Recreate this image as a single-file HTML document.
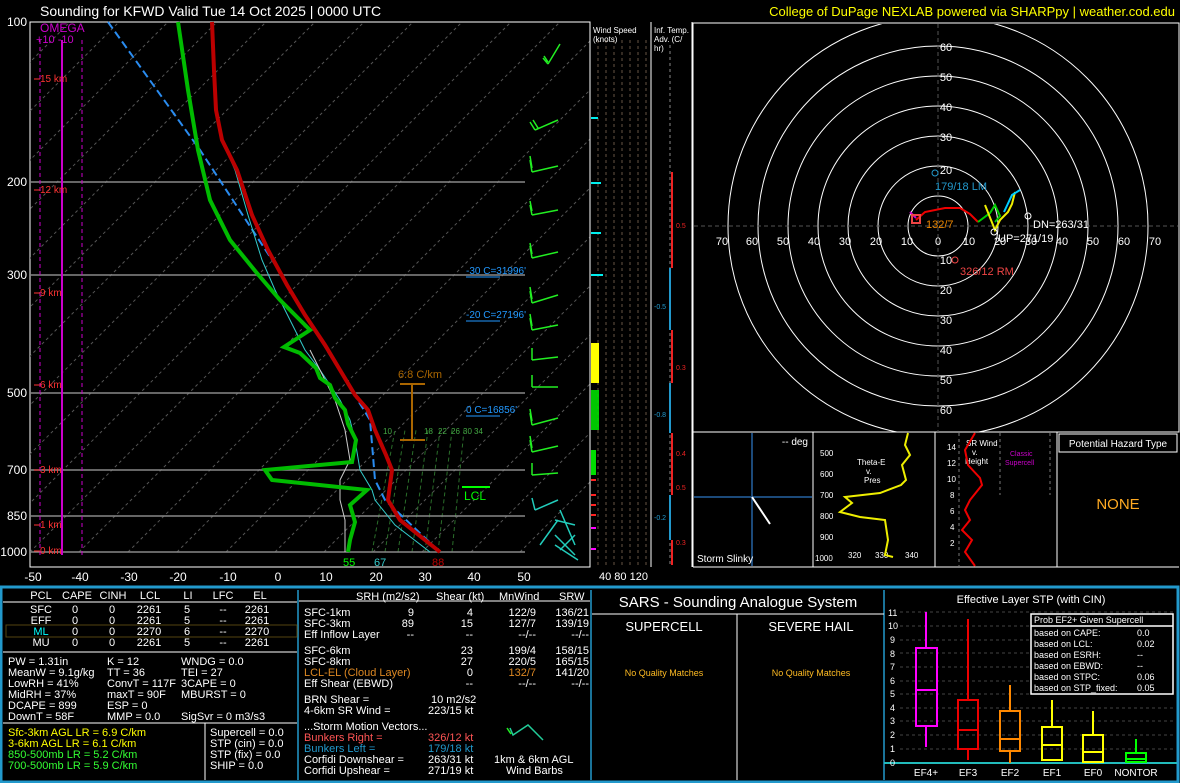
<!DOCTYPE html>
<html><head><meta charset="utf-8"><style>
body{margin:0;background:#000;width:1180px;height:783px;overflow:hidden}
svg{display:block;font-family:"Liberation Sans",sans-serif}
</style></head><body>
<svg width="1180" height="783" viewBox="0 0 1180 783" xmlns="http://www.w3.org/2000/svg">
<rect width="1180" height="783" fill="#000"/>
<text x="40" y="16" fill="#fff" font-size="14">Sounding for KFWD Valid  Tue 14 Oct 2025 | 0000 UTC</text>
<text x="1175" y="16" fill="#ff0" font-size="13" text-anchor="end">College of DuPage NEXLAB powered via SHARPpy | weather.cod.edu</text>
<defs><clipPath id="sk"><rect x="30" y="22" width="560" height="545"/></clipPath>
<clipPath id="hd"><rect x="694" y="24" width="484" height="408"/></clipPath></defs>
<rect x="30" y="22" width="560" height="545" fill="none" stroke="#fff" stroke-width="1"/>
<g clip-path="url(#sk)" stroke="#555" stroke-dasharray="3,3" stroke-width="1">
<path d="M-460 552L70 22M-411 552L119 22M-362 552L168 22M-313 552L217 22M-264 552L266 22M-215 552L315 22M-166 552L364 22M-117 552L413 22M-68 552L462 22M-19 552L511 22M30 552L560 22M79 552L609 22M128 552L658 22M177 552L707 22M226 552L756 22M275 552L805 22M324 552L854 22M373 552L903 22M422 552L952 22M471 552L1001 22M520 552L1050 22"/>
</g>
<g clip-path="url(#sk)" stroke="#2a6e2a" stroke-width="1" stroke-dasharray="4,3">
<path d="M372 552L395 430M385 552L405 430M398 552L416 430M412 552L428 430M425 552L440 430M438 552L452 430M452 552L464 430"/>
</g>
<g fill="#4a4" font-size="8"><text x="383" y="434">10</text><text x="424" y="434">18</text><text x="438" y="434">22</text><text x="451" y="434">26</text><text x="463" y="434">30</text><text x="474" y="434">34</text></g>
<g stroke="#888" stroke-width="1.5"><path d="M30 182H525M30 275H525M30 393H525M30 470H525M30 516H525M30 552H525"/></g>
<g fill="#fff" font-size="12" text-anchor="end"><text x="27" y="26">100</text><text x="27" y="186">200</text><text x="27" y="279">300</text><text x="27" y="397">500</text><text x="27" y="474">700</text><text x="27" y="520">850</text><text x="27" y="556">1000</text></g>
<g fill="#fff" font-size="12" text-anchor="middle"><text x="33" y="581">-50</text><text x="80" y="581">-40</text><text x="129" y="581">-30</text><text x="178" y="581">-20</text><text x="228" y="581">-10</text><text x="278" y="581">0</text><text x="326" y="581">10</text><text x="376" y="581">20</text><text x="425" y="581">30</text><text x="474" y="581">40</text><text x="524" y="581">50</text></g>
<g stroke="#c0c" stroke-width="1" stroke-dasharray="4,3"><path d="M40 40V555M82 40V555"/></g>
<path d="M62 40V555" stroke="#c0c" stroke-width="2"/>
<text x="40" y="32" fill="#c0c" font-size="12">OMEGA</text>
<text x="36" y="43" fill="#c0c" font-size="11">+10   -10</text>
<g fill="#f33" font-size="10"><text x="40" y="82">15 km</text><text x="40" y="193">12 km</text><text x="40" y="296">9 km</text><text x="40" y="388">6 km</text><text x="40" y="473">3 km</text><text x="40" y="528">1 km</text><text x="40" y="554">0 km</text></g>
<g stroke="#f33"><path d="M34 79H40M34 190H40M34 293H40M34 385H40M34 470H40M34 525H40M34 551H40"/></g>
<path d="M108 22L200 150L280 272L330 355L370 420L375 480L385 500L440 552" fill="none" stroke="#2a8cf0" stroke-width="2" stroke-dasharray="8,4"/>
<path d="M430 552L395 525L375 500L372 490L360 470L355 440L350 420L340 400L320 370L305 350L290 320L275 290L262 260L248 215L235 170L222 140" fill="none" stroke="#3cc" stroke-width="1"/>
<path d="M345 552L345 520L340 500L340 480L350 460L345 430L335 400L325 380L310 350" fill="none" stroke="#ccc" stroke-width="1"/>
<path d="M440 552L400 520L388 500L392 470L386 455L375 430L368 410L355 395L340 370L325 345L305 315L287 285L268 250L252 215L237 170L222 140L216 110L214 70L212 22" fill="none" stroke="#b00" stroke-width="4"/>
<path d="M348 552L350 540L355 522L350 505L367 490L272 480L265 470L352 462L356 440L348 424L345 410L335 398L330 385L320 378L316 368L300 353L284 347L310 330L280 300L256 272L230 240L210 200L198 150L188 90L178 22" fill="none" stroke="#0b0" stroke-width="4"/>
<text x="466" y="274" fill="#29f" font-size="10">-30 C=31996'</text>
<text x="466" y="318" fill="#29f" font-size="10">-20 C=27196'</text>
<text x="466" y="413" fill="#29f" font-size="10">0 C=16856'</text>
<g stroke="#29f"><path d="M466 277H500M466 321H500M466 416H500"/></g>
<path d="M412 384V440M400 384H425M400 440H425" stroke="#a60" stroke-width="2"/>
<text x="398" y="378" fill="#a60" font-size="11">6.8 C/km</text>
<text x="464" y="500" fill="#0f0" font-size="12">LCL</text>
<path d="M462 487H490" stroke="#0f0" stroke-width="2"/>
<g font-size="11"><text x="343" y="566" fill="#0f0">55</text><text x="374" y="566" fill="#3cc">67</text><text x="432" y="566" fill="#b00">88</text></g>
<g stroke="#2e2" stroke-width="1.5" fill="none">
<path d="M548 64L560 44M548 64L543 58M548 62L544 56"/>
<path d="M535 130L558 120M535 130L530 122M538 128L533 120"/>
<path d="M532 172L558 166M532 172L530 160M532 168L530 156"/>
<path d="M532 215L558 210M532 215L530 205M532 211L530 201"/>
<path d="M532 258L558 252M532 258L530 246M532 254L530 243"/>
<path d="M532 303L558 295M532 303L530 291M532 299L530 287"/>
<path d="M532 330L558 325M532 330L530 318M532 326L530 314"/>
<path d="M532 360L558 357M532 360L532 348"/>
<path d="M532 387L558 387M532 387L532 375"/>
<path d="M532 425L558 418M532 425L530 413M532 421L530 409"/>
<path d="M532 452L558 446M532 452L530 440M532 448L530 436"/>
<path d="M532 475L558 473M532 475L532 463"/>
</g>
<g stroke="#2cb" stroke-width="1.5" fill="none">
<path d="M535 510L558 500M535 510L532 498"/>
<path d="M540 545L558 520M560 510L575 545M555 520L575 525"/>
<path d="M555 535L575 555M555 545L578 560M560 550L575 535"/>
</g>
<path d="M590 22V567M651 22V567M692 22V567" stroke="#fff"/>
<g stroke="#654" stroke-dasharray="3,3"><path d="M598 40V565M606 40V565M614 40V565M622 40V565M630 40V565M638 40V565M646 40V565"/></g>
<text x="593" y="33" fill="#fff" font-size="8">Wind Speed</text><text x="593" y="42" fill="#fff" font-size="8">(knots)</text>
<text x="654" y="33" fill="#fff" font-size="8">Inf. Temp.</text><text x="654" y="42" fill="#fff" font-size="8">Adv. (C/</text><text x="654" y="51" fill="#fff" font-size="8">hr)</text>
<g stroke="#0ee" stroke-width="2"><path d="M591 118H598M591 183H601M591 233H601M591 275H603"/></g>
<rect x="591" y="343" width="8" height="40" fill="#ff0"/>
<rect x="591" y="390" width="8" height="40" fill="#0d0" opacity="0.9"/>
<rect x="591" y="450" width="5" height="25" fill="#0d0"/>
<g stroke="#f22" stroke-width="2"><path d="M591 480H596M591 495H596M591 505H596M591 515H596"/></g>
<path d="M591 528H596M591 549H596" stroke="#f0f" stroke-width="2"/>
<path d="M670 45V565" stroke="#888" stroke-dasharray="3,3"/>
<path d="M672 172V268M672 330V383M672 433V495M672 540V565" stroke="#e22" stroke-width="2"/>
<path d="M670 268V330M670 383V433M670 495V540" stroke="#29c" stroke-width="2"/>
<g font-size="7"><text x="676" y="228" fill="#e22">0.5</text><text x="676" y="370" fill="#e22">0.3</text><text x="676" y="456" fill="#e22">0.4</text><text x="676" y="490" fill="#e22">0.5</text><text x="676" y="545" fill="#e22">0.3</text><text x="654" y="309" fill="#29c">-0.5</text><text x="654" y="417" fill="#29c">-0.8</text><text x="654" y="520" fill="#29c">-0.2</text></g>
<text x="599" y="580" fill="#fff" font-size="11">40  80 120</text>
<rect x="693" y="23" width="486" height="409" fill="none" stroke="#fff"/>
<g clip-path="url(#hd)" fill="none" stroke="#fff" stroke-width="1">
<circle cx="938" cy="226" r="30"/><circle cx="938" cy="226" r="60"/><circle cx="938" cy="226" r="90"/><circle cx="938" cy="226" r="120"/><circle cx="938" cy="226" r="150"/><circle cx="938" cy="226" r="180"/><circle cx="938" cy="226" r="210"/>
</g>
<path d="M694 226H1178M938 24V432" stroke="#555" stroke-dasharray="4,3"/>
<g fill="#fff" font-size="11" text-anchor="middle"><text x="722" y="245">70</text><text x="752" y="245">60</text><text x="783" y="245">50</text><text x="814" y="245">40</text><text x="845" y="245">30</text><text x="876" y="245">20</text><text x="907" y="245">10</text><text x="938" y="245">0</text><text x="969" y="245">10</text><text x="1000" y="245">20</text><text x="1031" y="245">30</text><text x="1062" y="245">40</text><text x="1093" y="245">50</text><text x="1124" y="245">60</text><text x="1155" y="245">70</text>
<text x="946" y="51">60</text><text x="946" y="81">50</text><text x="946" y="111">40</text><text x="946" y="141">30</text><text x="946" y="174">20</text><text x="946" y="264">10</text><text x="946" y="294">20</text><text x="946" y="324">30</text><text x="946" y="354">40</text><text x="946" y="384">50</text><text x="946" y="414">60</text></g>
<path d="M916 220L925 212L945 208L960 208L970 214L978 222" fill="none" stroke="#e00" stroke-width="2"/>
<path d="M978 222L990 213L995 205L1000 216L995 222" fill="none" stroke="#0c0" stroke-width="2"/>
<path d="M985 205L995 230L1000 220L1008 212L1012 204L1015 192" fill="none" stroke="#ee0" stroke-width="2"/>
<path d="M1004 212L1012 195L1020 190" fill="none" stroke="#0cf" stroke-width="2"/>
<path d="M910 212L916 218" stroke="#c0c" stroke-width="2"/>
<rect x="912" y="215" width="8" height="8" fill="none" stroke="#e44" stroke-width="2"/>
<text x="926" y="228" fill="#e80" font-size="11">132/7</text>
<circle cx="935" cy="173" r="3" fill="none" stroke="#29c"/><text x="935" y="190" fill="#29c" font-size="11">179/18 LM</text>
<circle cx="955" cy="260" r="3" fill="none" stroke="#e44"/><text x="960" y="275" fill="#e44" font-size="11">326/12 RM</text>
<circle cx="1028" cy="216" r="3" fill="none" stroke="#fff"/><text x="1033" y="228" fill="#fff" font-size="11">DN=263/31</text>
<circle cx="994" cy="232" r="3" fill="none" stroke="#fff"/><text x="998" y="242" fill="#fff" font-size="11">UP=271/19</text>
<path d="M693 432V567M813 432V567M935 432V567M1057 432V567M693 567H1179" stroke="#fff"/>
<path d="M694 497H812M752 433V566" stroke="#1c4a7a" stroke-width="2"/>
<path d="M752 497L770 524" stroke="#fff" stroke-width="2"/>
<text x="808" y="445" fill="#fff" font-size="10" text-anchor="end">-- deg</text>
<text x="697" y="562" fill="#fff" font-size="10">Storm Slinky</text>
<g fill="#fff" font-size="8"><text x="820" y="456">500</text><text x="820" y="477">600</text><text x="820" y="498">700</text><text x="820" y="519">800</text><text x="820" y="540">900</text><text x="815" y="561">1000</text><text x="848" y="558">320</text><text x="875" y="558">330</text><text x="905" y="558">340</text><text x="857" y="465">Theta-E</text><text x="866" y="474">v.</text><text x="864" y="483">Pres</text></g>
<path d="M908 433L905 445L910 455L902 465L906 480L901 485L880 493L845 497L852 503L840 512L860 517L885 520L888 540L885 555L893 557" fill="none" stroke="#ee0" stroke-width="2"/>
<g fill="#fff" font-size="8"><text x="947" y="450">14</text><text x="947" y="466">12</text><text x="947" y="482">10</text><text x="950" y="498">8</text><text x="950" y="514">6</text><text x="950" y="530">4</text><text x="950" y="546">2</text><text x="966" y="446">SR Wind</text><text x="972" y="455">v.</text><text x="965" y="464">Height</text></g>
<text x="1010" y="456" fill="#c0c" font-size="7">Classic</text><text x="1005" y="465" fill="#c0c" font-size="7">Supercell</text>
<path d="M959 433V566M1000 433V495M1050 433V495" stroke="#777" stroke-dasharray="3,3"/>
<path d="M975 433L965 450L968 465L980 478L982 485L970 500L965 510L970 520L962 530L972 540L965 552L975 566" fill="none" stroke="#e00" stroke-width="2"/>
<rect x="1059" y="434" width="118" height="18" fill="none" stroke="#fff"/>
<text x="1118" y="447" fill="#fff" font-size="10" text-anchor="middle">Potential Hazard Type</text>
<text x="1118" y="509" fill="#fa2" font-size="15" text-anchor="middle">NONE</text>
<!-- bottom panels -->
<rect x="1" y="587" width="1177" height="195" fill="none" stroke="#29c" stroke-width="3"/>
<path d="M298 590V780M591 590V780M884 590V780" stroke="#29c" stroke-width="1.5"/>
<path d="M3 602H297M3 652H297M3 723H297M205 723V780M299 601H590" stroke="#fff"/>
<rect x="6" y="625" width="291" height="12" fill="none" stroke="#541"/>
<g fill="#fff" font-size="11" text-anchor="middle">
<text x="41" y="599">PCL</text><text x="77" y="599">CAPE</text><text x="113" y="599">CINH</text><text x="150" y="599">LCL</text><text x="188" y="599">LI</text><text x="223" y="599">LFC</text><text x="260" y="599">EL</text>
<text x="41" y="613">SFC</text><text x="75" y="613">0</text><text x="112" y="613">0</text><text x="149" y="613">2261</text><text x="187" y="613">5</text><text x="223" y="613">--</text><text x="257" y="613">2261</text>
<text x="41" y="624">EFF</text><text x="75" y="624">0</text><text x="112" y="624">0</text><text x="149" y="624">2261</text><text x="187" y="624">5</text><text x="223" y="624">--</text><text x="257" y="624">2261</text>
<text x="41" y="635" fill="#0ff">ML</text><text x="75" y="635">0</text><text x="112" y="635">0</text><text x="149" y="635">2270</text><text x="187" y="635">6</text><text x="223" y="635">--</text><text x="257" y="635">2270</text>
<text x="41" y="646">MU</text><text x="75" y="646">0</text><text x="112" y="646">0</text><text x="149" y="646">2261</text><text x="187" y="646">5</text><text x="223" y="646">--</text><text x="257" y="646">2261</text>
</g>
<g fill="#fff" font-size="11">
<text x="8" y="665">PW = 1.31in</text><text x="107" y="665">K = 12</text><text x="181" y="665">WNDG = 0.0</text>
<text x="8" y="676">MeanW = 9.1g/kg</text><text x="107" y="676">TT = 36</text><text x="181" y="676">TEI = 27</text>
<text x="8" y="687">LowRH = 41%</text><text x="107" y="687">ConvT = 117F</text><text x="181" y="687">3CAPE = 0</text>
<text x="8" y="698">MidRH = 37%</text><text x="107" y="698">maxT = 90F</text><text x="181" y="698">MBURST = 0</text>
<text x="8" y="709">DCAPE = 899</text><text x="107" y="709">ESP = 0</text>
<text x="8" y="720">DownT = 58F</text><text x="107" y="720">MMP = 0.0</text><text x="181" y="720">SigSvr = 0 m3/s3</text>
<text x="8" y="736" fill="#ff0">Sfc-3km AGL LR = 6.9 C/km</text><text x="8" y="747" fill="#ff0">3-6km AGL LR = 6.1 C/km</text>
<text x="8" y="758" fill="#3f3">850-500mb LR = 5.2 C/km</text><text x="8" y="769" fill="#3f3">700-500mb LR = 5.9 C/km</text>
<text x="210" y="736">Supercell = 0.0</text><text x="210" y="747">STP (cin) = 0.0</text><text x="210" y="758">STP (fix) = 0.0</text><text x="210" y="769">SHIP = 0.0</text>
<text x="356" y="600">SRH (m2/s2)</text><text x="436" y="600">Shear (kt)</text><text x="499" y="600">MnWind</text><text x="559" y="600">SRW</text>
<text x="304" y="616">SFC-1km</text><text x="304" y="627">SFC-3km</text><text x="304" y="638">Eff Inflow Layer</text>
<text x="304" y="654">SFC-6km</text><text x="304" y="665">SFC-8km</text><text x="304" y="676" fill="#d82">LCL-EL (Cloud Layer)</text><text x="304" y="687">Eff Shear (EBWD)</text>
<text x="304" y="703">BRN Shear =</text><text x="304" y="714">4-6km SR Wind =</text>
<text x="304" y="730">...Storm Motion Vectors...</text>
<text x="304" y="741" fill="#f55">Bunkers Right =</text><text x="304" y="752" fill="#29c">Bunkers Left =</text>
<text x="304" y="763">Corfidi Downshear =</text><text x="304" y="774">Corfidi Upshear =</text>
<text x="431" y="703">10 m2/s2</text><text x="428" y="714">223/15 kt</text>
<text x="428" y="741" fill="#f55">326/12 kt</text><text x="428" y="752" fill="#29c">179/18 kt</text><text x="428" y="763">263/31 kt</text><text x="428" y="774">271/19 kt</text>
<text x="494" y="763">1km &amp; 6km AGL</text><text x="506" y="774">Wind Barbs</text>
</g>
<g fill="#fff" font-size="11" text-anchor="end">
<text x="414" y="616">9</text><text x="414" y="627">89</text><text x="414" y="638">--</text>
<text x="473" y="616">4</text><text x="473" y="627">15</text><text x="473" y="638">--</text><text x="473" y="654">23</text><text x="473" y="665">27</text><text x="473" y="676">0</text><text x="473" y="687">--</text>
<text x="536" y="616">122/9</text><text x="536" y="627">127/7</text><text x="536" y="638">--/--</text><text x="536" y="654">199/4</text><text x="536" y="665">220/5</text><text x="536" y="676" fill="#d82">132/7</text><text x="536" y="687">--/--</text>
<text x="589" y="616">136/21</text><text x="589" y="627">139/19</text><text x="589" y="638">--/--</text><text x="589" y="654">158/15</text><text x="589" y="665">165/15</text><text x="589" y="676">141/20</text><text x="589" y="687">--/--</text>
</g>
<path d="M510 728L513 735L528 725L543 740" fill="none" stroke="#2c9" stroke-width="1.5"/>
<path d="M507 728L511 734" stroke="#2e2" stroke-width="1.5"/>
<path d="M592 614H884M737 614V780" stroke="#fff"/>
<text x="738" y="607" fill="#fff" font-size="15" text-anchor="middle">SARS - Sounding Analogue System</text>
<text x="664" y="631" fill="#fff" font-size="13" text-anchor="middle">SUPERCELL</text>
<text x="811" y="631" fill="#fff" font-size="13" text-anchor="middle">SEVERE HAIL</text>
<text x="664" y="676" fill="#fb2" font-size="9" text-anchor="middle">No Quality Matches</text>
<text x="811" y="676" fill="#fb2" font-size="9" text-anchor="middle">No Quality Matches</text>
<text x="1031" y="603" fill="#fff" font-size="11" text-anchor="middle">Effective Layer STP (with CIN)</text>
<g stroke="#444" stroke-dasharray="3,3"><path d="M900 612H1176M900 626H1176M900 640H1176M900 653H1176M900 667H1176M900 681H1176M900 694H1176M900 708H1176M900 721H1176M900 735H1176M900 749H1176"/></g>
<path d="M884 763H1177" stroke="#2bb" stroke-width="2"/>
<g fill="#fff" font-size="9"><text x="888" y="616">11</text><text x="888" y="629">10</text><text x="890" y="643">9</text><text x="890" y="657">8</text><text x="890" y="670">7</text><text x="890" y="684">6</text><text x="890" y="697">5</text><text x="890" y="711">4</text><text x="890" y="724">3</text><text x="890" y="738">2</text><text x="890" y="752">1</text><text x="890" y="766">0</text></g>
<g fill="none" stroke-width="2">
<g stroke="#f0f"><rect x="916" y="648" width="21" height="78"/><path d="M916 690H937M926 612V648M926 726V747"/></g>
<g stroke="#e00"><rect x="958" y="700" width="20" height="49"/><path d="M958 730H978M968 619V700M968 749V760"/></g>
<g stroke="#f80"><rect x="1000" y="711" width="20" height="40"/><path d="M1000 739H1020M1010 685V711M1010 751V763"/></g>
<g stroke="#ff0"><rect x="1042" y="727" width="20" height="33"/><path d="M1042 745H1062M1052 700V727"/></g>
<g stroke="#ff0"><rect x="1083" y="735" width="20" height="27"/><path d="M1083 752H1103M1093 711V735"/></g>
<g stroke="#0f0"><rect x="1126" y="753" width="20" height="9"/><path d="M1126 759H1146M1136 739V753"/></g>
</g>
<g fill="#fff" font-size="10" text-anchor="middle"><text x="926" y="776">EF4+</text><text x="968" y="776">EF3</text><text x="1010" y="776">EF2</text><text x="1052" y="776">EF1</text><text x="1093" y="776">EF0</text><text x="1136" y="776">NONTOR</text></g>
<rect x="1031" y="614" width="142" height="80" fill="#000" stroke="#fff" stroke-width="1.5"/>
<path d="M1031 626H1173" stroke="#fff" stroke-width="1.5"/>
<g fill="#fff" font-size="9"><text x="1034" y="623">Prob EF2+ Given Supercell</text>
<text x="1034" y="636">based on CAPE:</text><text x="1034" y="647">based on LCL:</text><text x="1034" y="658">based on ESRH:</text><text x="1034" y="669">based on EBWD:</text><text x="1034" y="680">based on STPC:</text><text x="1034" y="691">based on STP_fixed:</text>
<text x="1137" y="636">0.0</text><text x="1137" y="647">0.02</text><text x="1137" y="658">--</text><text x="1137" y="669">--</text><text x="1137" y="680">0.06</text><text x="1137" y="691">0.05</text></g>
</svg>
</body></html>
